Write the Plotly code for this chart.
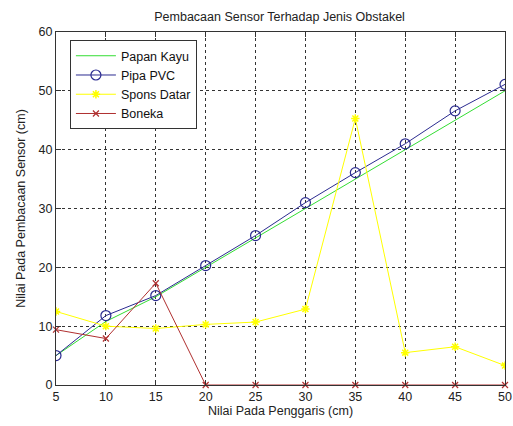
import plotly.graph_objects as go

x_vals = [5, 10, 15, 20, 25, 30, 35, 40, 45, 50]
papan_kayu = [5, 10.8, 15, 20, 25, 30, 35, 40, 45, 50]
pipa_pvc = [5.0, 11.8, 15.2, 20.3, 25.4, 31.0, 36.1, 41.0, 46.6, 51.1]
spons_datar = [12.5, 10.0, 9.6, 10.3, 10.7, 12.9, 45.3, 5.5, 6.5, 3.3]
boneka = [9.4, 7.9, 17.3, 0, 0, 0, 0, 0, 0, 0]

x_ticks = [5, 10, 15, 20, 25, 30, 35, 40, 45, 50]
y_ticks = [0, 10, 20, 30, 40, 50, 60]

fig = go.Figure()
fig.add_trace(go.Scatter(x=x_vals, y=papan_kayu, name="Papan Kayu", mode="lines",
                         line=dict(color="#33dd33", width=1)))
fig.add_trace(go.Scatter(x=x_vals, y=pipa_pvc, name="Pipa PVC", mode="lines+markers",
                         line=dict(color="#2b2b90", width=1),
                         marker=dict(symbol="circle-open", size=10, color="#2b2b90", line=dict(width=1.2))))
fig.add_trace(go.Scatter(x=x_vals, y=spons_datar, name="Spons Datar", mode="lines+markers",
                         line=dict(color="#ffff00", width=1),
                         marker=dict(symbol="asterisk-open", size=7, color="#ffff00", line=dict(width=1.5))))
fig.add_trace(go.Scatter(x=x_vals, y=boneka, name="Boneka", mode="lines+markers",
                         line=dict(color="#b03030", width=1), cliponaxis=False,
                         marker=dict(symbol="x-thin-open", size=6, color="#b03030", line=dict(width=1.2))))

fig.update_layout(
    width=513, height=426,
    margin=dict(l=56, r=8, t=32, b=41, autoexpand=False),
    paper_bgcolor="white", plot_bgcolor="white",
    font=dict(family="Liberation Sans, Arial, sans-serif", size=12, color="#222"),
    title=dict(text="Pembacaan Sensor Terhadap Jenis Obstakel", x=0.545, xanchor="center",
               y=0.962, yanchor="middle", font=dict(size=12.5, color="#222")),
    showlegend=True,
    legend=dict(x=0.031, y=0.977, xanchor="left", yanchor="top",
                bgcolor="white", bordercolor="#333", borderwidth=1,
                font=dict(size=12.5, color="#111"), tracegroupgap=0, itemwidth=40),
)
fig.update_xaxes(range=[5, 50], tickvals=x_ticks, ticks="inside", ticklen=5, tickcolor="#333",
                 showline=True, linecolor="#333", linewidth=1, mirror="ticks", automargin=False,
                 showgrid=True, gridcolor="#333", griddash="dot", gridwidth=1,
                 zeroline=False, tickfont=dict(size=12.5, color="#222"),
                 title=dict(text="Nilai Pada Penggaris (cm)", font=dict(size=12.5, color="#222"), standoff=2))
fig.update_yaxes(range=[0, 60], tickvals=y_ticks, ticks="inside", ticklen=5, tickcolor="#333",
                 showline=True, linecolor="#333", linewidth=1, mirror="ticks", automargin=False,
                 showgrid=True, gridcolor="#333", griddash="dot", gridwidth=1,
                 zeroline=False, tickfont=dict(size=12.5, color="#222"),
                 title=dict(text="Nilai Pada Pembacaan Sensor (cm)", font=dict(size=12.5, color="#222"), standoff=10))

fig.write_html("out.html")
